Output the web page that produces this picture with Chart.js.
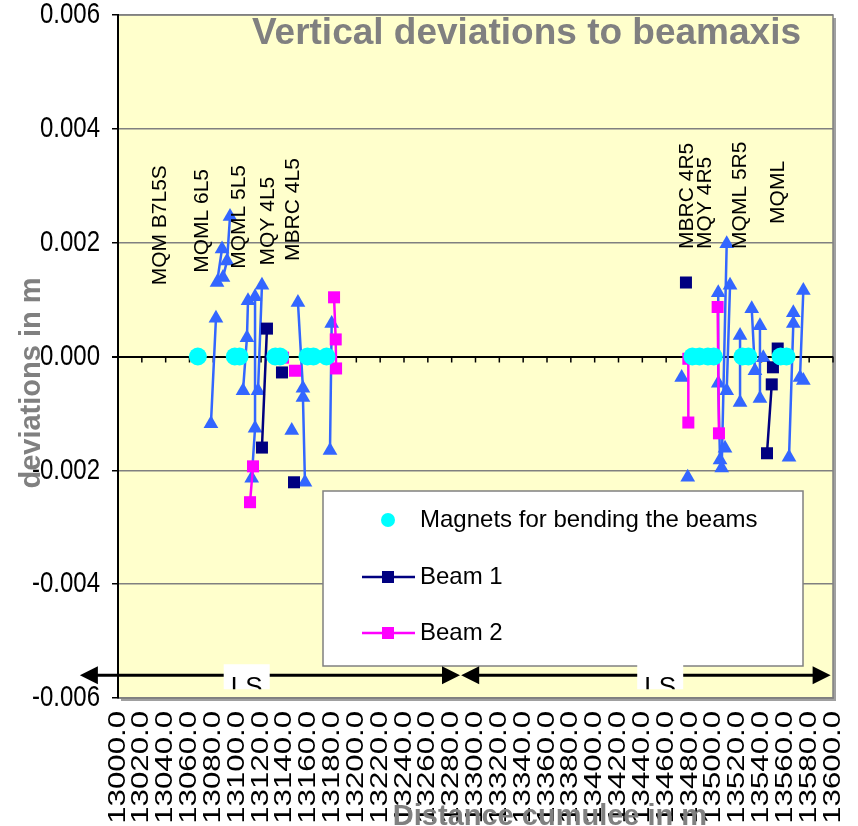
<!DOCTYPE html>
<html>
<head>
<meta charset="utf-8">
<script src="https://cdn.jsdelivr.net/npm/chart.js@4.4.0/dist/chart.umd.min.js"></script>
<style>
  html, body { margin: 0; padding: 0; background: #ffffff; }
  #wrap { width: 858px; height: 826px; }
</style>
</head>
<body>
<div id="wrap"><canvas id="chart" width="858" height="826"></canvas></div>
<script>
// magnets for bending the beams (all sit on the axis)
const magnetDist = [13067, 13098, 13102, 13132, 13136, 13159, 13164, 13175, 13482, 13488, 13495, 13500, 13524, 13529, 13556, 13561];
const magnetDev = [0, 0, 0, 0, 0, 0, 0, 0, 0, 0, 0, 0, 0, 0, 0, 0];

// beam 1, null = gap in the line
const beam1Dist = [13120.8, 13125.0, null, 13137.6, null, 13147.7, null, 13476.6, null, 13544.6, 13548.6, null, 13549.6, null, 13553.6];
const beam1Dev = [-0.0016, 0.00049, null, -0.00028, null, -0.00221, null, 0.0013, null, -0.0017, -0.00049, null, -0.00019, null, 0.00014];

// beam 2
const beam2Dist = [13110.8, 13113.3, null, 13138.5, null, 13148.5, null, 13181.3, 13182.7, 13183.0, null, 13478.6, 13478.6, null, 13503.2, 13504.3];
const beam2Dev = [-0.00256, -0.00193, null, -0.00002, null, -0.00025, null, 0.00104, 0.0003, -0.00021, null, -0.00004, -0.00116, null, 0.00087, -0.00135];

// measured quadrupole points (blue triangles, not in legend)
const quadDist = [
  13078.0, 13082.2, null, 13083.1, 13087.3, null, 13088.1, 13091.5, 13094.0, null,
  13104.9, 13108.2, 13109.1, null, 13112.2, 13115.0, 13115.0, null, 13117.5, 13120.8, null,
  13145.8, null, 13156.9, 13155.2, 13155.2, 13151.0, null, 13177.9, 13179.3, null,
  13473.0, null, 13478.1, null, 13503.7, 13503.7, 13505.2, null, 13506.6, 13510.8, null,
  13510.8, 13513.6, null, 13509.4, null, 13522.0, 13522.0, null, 13534.5, 13531.8, null,
  13538.7, 13538.7, null, 13541.5, null, 13563.1, 13566.7, 13566.7, null,
  13572.3, 13575.1, null, 13575.1
];
const quadDev = [
  -0.00118, 0.00067, null, 0.0013, 0.00189, null, 0.00139, 0.00168, 0.00246, null,
  -0.0006, 0.00033, 0.00098, null, -0.00214, -0.00126, 0.00105, null, -0.0006, 0.00125, null,
  -0.0013, null, -0.00221, -0.00072, -0.00056, 0.00095, null, -0.00165, 0.00058, null,
  -0.00037, null, -0.00212, null, 0.00112, -0.00047, -0.00182, null, -0.00196, 0.00198, null,
  -0.0006, 0.00125, null, -0.00161, null, -0.00081, 0.00037, null, -0.00025, 0.00084, null,
  -0.00074, 0.00054, null, -0.00002, null, -0.00177, 0.00058, 0.00077, null,
  -0.00037, 0.00116, null, -0.00042
];

// element names written above the points
const elemNames = ["MQM B7L5S", "MQML 6L5", "MQML 5L5", "MQY 4L5", "MBRC 4L5", "MBRC 4R5", "MQY 4R5", "MQML 5R5", "MQML"];
const elemDist = [13035, 13070.5, 13102, 13126, 13147, 13477.5, 13492.6, 13522, 13554];
const elemDev = [0.00125, 0.00147, 0.00154, 0.0016, 0.00168, 0.00189, 0.00189, 0.00189, 0.00233];

// LS spans at the bottom
const lsStart = [12968, 13288];
const lsEnd = [13287, 13598];
const lsLabelDist = [13108, 13455];
const lsDev = -0.0056;

const xTickValues = [13000, 13020, 13040, 13060, 13080, 13100, 13120, 13140, 13160, 13180,
  13200, 13220, 13240, 13260, 13280, 13300, 13320, 13340, 13360, 13380, 13400,
  13420, 13440, 13460, 13480, 13500, 13520, 13540, 13560, 13580, 13600];
const yTickValues = [-0.006, -0.004, -0.002, 0, 0.002, 0.004, 0.006];

const chartTitle = "Vertical deviations to beamaxis";
const xTitle = "Distance cumulee in m";
const yTitle = "deviations in m";

const FONT = '"Liberation Sans", Arial, sans-serif';
Chart.defaults.font.family = FONT;

function pts(xs, ys) {
  return xs.map((x, i) => ({ x: x === null ? 13000 : x, y: ys[i] }));
}

function yLabel(v) {
  return Math.abs(v) < 1e-9 ? "0.000" : Number(v).toFixed(3);
}

const framePlugin = {
  id: "frame",
  beforeDraw(chart) {
    const { ctx, chartArea: a } = chart;
    ctx.save();
    ctx.fillStyle = "#a0a0a0";
    ctx.fillRect(a.left + 3, a.top + 3, a.right - a.left, a.bottom - a.top);
    ctx.fillStyle = "#ffffcc";
    ctx.fillRect(a.left, a.top, a.right - a.left, a.bottom - a.top);
    ctx.strokeStyle = "#808080";
    ctx.lineWidth = 1.5;
    ctx.strokeRect(a.left, a.top, a.right - a.left, a.bottom - a.top);
    ctx.restore();
  },
  beforeDatasetsDraw(chart) {
    // tick marks on the zero line (the x axis crosses there)
    const { ctx, scales: { x, y } } = chart;
    const y0 = y.getPixelForValue(0);
    ctx.save();
    ctx.strokeStyle = "#000000";
    ctx.lineWidth = 1.5;
    x.ticks.forEach(t => {
      const px = x.getPixelForValue(t.value);
      ctx.beginPath();
      ctx.moveTo(px, y0);
      ctx.lineTo(px, y0 + 6);
      ctx.stroke();
    });
    ctx.restore();
  },
  afterDraw(chart) {
    const { ctx, chartArea: a, scales: { x, y } } = chart;
    ctx.save();

    // tick labels, drawn a bit tall like the original
    ctx.fillStyle = "#000000";
    ctx.font = "24px " + FONT;
    ctx.textAlign = "right";
    ctx.textBaseline = "middle";
    x.ticks.forEach(t => {
      ctx.save();
      ctx.translate(x.getPixelForValue(t.value), a.bottom + 13);
      ctx.rotate(-Math.PI / 2);
      ctx.scale(1.3, 1);
      ctx.fillText(Number(t.value).toFixed(1), 0, 0);
      ctx.restore();
    });
    y.ticks.forEach(t => {
      ctx.save();
      ctx.translate(a.left - 18, y.getPixelForValue(t.value));
      ctx.scale(1, 1.25);
      ctx.fillText(yLabel(t.value), 0, 0);
      ctx.restore();
    });

    // element names
    ctx.font = "21px " + FONT;
    ctx.textAlign = "left";
    ctx.textBaseline = "middle";
    elemNames.forEach((name, i) => {
      ctx.save();
      ctx.translate(x.getPixelForValue(elemDist[i]), y.getPixelForValue(elemDev[i]));
      ctx.rotate(-Math.PI / 2);
      ctx.fillText(name, 0, 0);
      ctx.restore();
    });

    // title inside the plot
    ctx.fillStyle = "#808080";
    ctx.font = "bold 37px " + FONT;
    ctx.textAlign = "right";
    ctx.textBaseline = "alphabetic";
    ctx.fillText(chartTitle, a.right - 32, a.top + 29);

    // axis titles
    ctx.font = "bold 29px " + FONT;
    ctx.textAlign = "center";
    ctx.fillText(xTitle, 550, 825);
    ctx.save();
    ctx.translate(40, 383);
    ctx.rotate(-Math.PI / 2);
    ctx.fillText(yTitle, 0, 0);
    ctx.restore();

    // legend box
    const lx = 323, ly = 491, lw = 480, lh = 175;
    ctx.fillStyle = "#ffffff";
    ctx.fillRect(lx, ly, lw, lh);
    ctx.strokeStyle = "#808080";
    ctx.lineWidth = 1.5;
    ctx.strokeRect(lx, ly, lw, lh);
    const ds = chart.data.datasets;
    const rows = [ly + 29, ly + 86, ly + 142];
    ctx.font = "24px " + FONT;
    ctx.textAlign = "left";
    ctx.textBaseline = "middle";
    for (let i = 0; i < 3; i++) {
      const cy = rows[i];
      const cx = lx + 65;
      if (i === 0) {
        ctx.fillStyle = ds[0].pointBackgroundColor;
        ctx.beginPath();
        ctx.arc(cx, cy, 7, 0, Math.PI * 2);
        ctx.fill();
      } else {
        ctx.strokeStyle = ds[i].borderColor;
        ctx.lineWidth = 2.5;
        ctx.beginPath();
        ctx.moveTo(cx - 26, cy);
        ctx.lineTo(cx + 27, cy);
        ctx.stroke();
        ctx.fillStyle = ds[i].pointBackgroundColor;
        ctx.fillRect(cx - 6, cy - 6, 12, 12);
      }
      ctx.fillStyle = "#000000";
      ctx.fillText(ds[i].label, lx + 97, cy);
    }

    // LS arrows
    const ay = y.getPixelForValue(lsDev);
    ctx.strokeStyle = "#000000";
    ctx.fillStyle = "#000000";
    ctx.lineWidth = 3;
    for (let i = 0; i < lsStart.length; i++) {
      const x1 = x.getPixelForValue(lsStart[i]);
      const x2 = x.getPixelForValue(lsEnd[i]);
      ctx.beginPath();
      ctx.moveTo(x1 + 10, ay);
      ctx.lineTo(x2 - 10, ay);
      ctx.stroke();
      [[x1, 1], [x2, -1]].forEach(([tip, d]) => {
        ctx.beginPath();
        ctx.moveTo(tip, ay);
        ctx.lineTo(tip + d * 18, ay - 9);
        ctx.lineTo(tip + d * 18, ay + 9);
        ctx.closePath();
        ctx.fill();
      });
      const lxp = x.getPixelForValue(lsLabelDist[i]);
      ctx.save();
      ctx.fillStyle = "#ffffff";
      ctx.fillRect(lxp - 23, ay - 11, 46, 25);
      ctx.beginPath();
      ctx.rect(lxp - 23, ay - 11, 46, 25);
      ctx.clip();
      ctx.fillStyle = "#000000";
      ctx.font = "26px " + FONT;
      ctx.textAlign = "center";
      ctx.textBaseline = "alphabetic";
      ctx.fillText("LS", lxp, ay + 20);
      ctx.restore();
    }
    ctx.restore();
  }
};

const ctx = document.getElementById("chart").getContext("2d");
new Chart(ctx, {
  type: "scatter",
  data: {
    datasets: [
      {
        label: "Magnets for bending the beams",
        data: pts(magnetDist, magnetDev),
        showLine: false,
        pointStyle: "circle",
        pointRadius: 9,
        pointBackgroundColor: "#00ffff",
        pointBorderWidth: 0
      },
      {
        label: "Beam 1",
        data: pts(beam1Dist, beam1Dev),
        showLine: true,
        spanGaps: false,
        borderColor: "#000080",
        borderWidth: 2.5,
        pointStyle: "rect",
        pointRadius: 8.5,
        pointBackgroundColor: "#000080",
        pointBorderWidth: 0
      },
      {
        label: "Beam 2",
        data: pts(beam2Dist, beam2Dev),
        showLine: true,
        spanGaps: false,
        borderColor: "#ff00ff",
        borderWidth: 2.5,
        pointStyle: "rect",
        pointRadius: 8.5,
        pointBackgroundColor: "#ff00ff",
        pointBorderWidth: 0
      },
      {
        label: "Quadrupoles",
        data: pts(quadDist, quadDev),
        showLine: true,
        spanGaps: false,
        borderColor: "#3366ff",
        borderWidth: 2.5,
        pointStyle: "triangle",
        pointRadius: 8.5,
        pointBackgroundColor: "#3366ff",
        pointBorderWidth: 0
      }
    ]
  },
  options: {
    responsive: false,
    animation: false,
    layout: { padding: { top: 15, right: 25, left: 0, bottom: 0 } },
    plugins: {
      legend: { display: false },
      tooltip: { enabled: false }
    },
    scales: {
      x: {
        type: "linear",
        min: 13000,
        max: 13600,
        afterBuildTicks: s => { s.ticks = xTickValues.map(v => ({ value: v })); },
        afterFit: s => { s.height = 128; s.paddingLeft = 0; s.paddingRight = 0; },
        grid: { display: false },
        border: { color: "#808080", width: 1.5 },
        ticks: { display: false }
      },
      y: {
        min: -0.006,
        max: 0.006,
        afterBuildTicks: s => { s.ticks = yTickValues.map(v => ({ value: v })); },
        afterFit: s => { s.width = 118; s.paddingTop = 0; s.paddingBottom = 0; },
        grid: {
          color: c => (Math.abs(c.tick.value) < 1e-9 ? "#000000" : "#808080"),
          lineWidth: c => (Math.abs(c.tick.value) < 1e-9 ? 2 : 1.5),
          tickColor: "#000000",
          tickLength: 6
        },
        border: { color: "#000000", width: 2 },
        ticks: { display: false }
      }
    }
  },
  plugins: [framePlugin]
});
</script>
</body>
</html>
